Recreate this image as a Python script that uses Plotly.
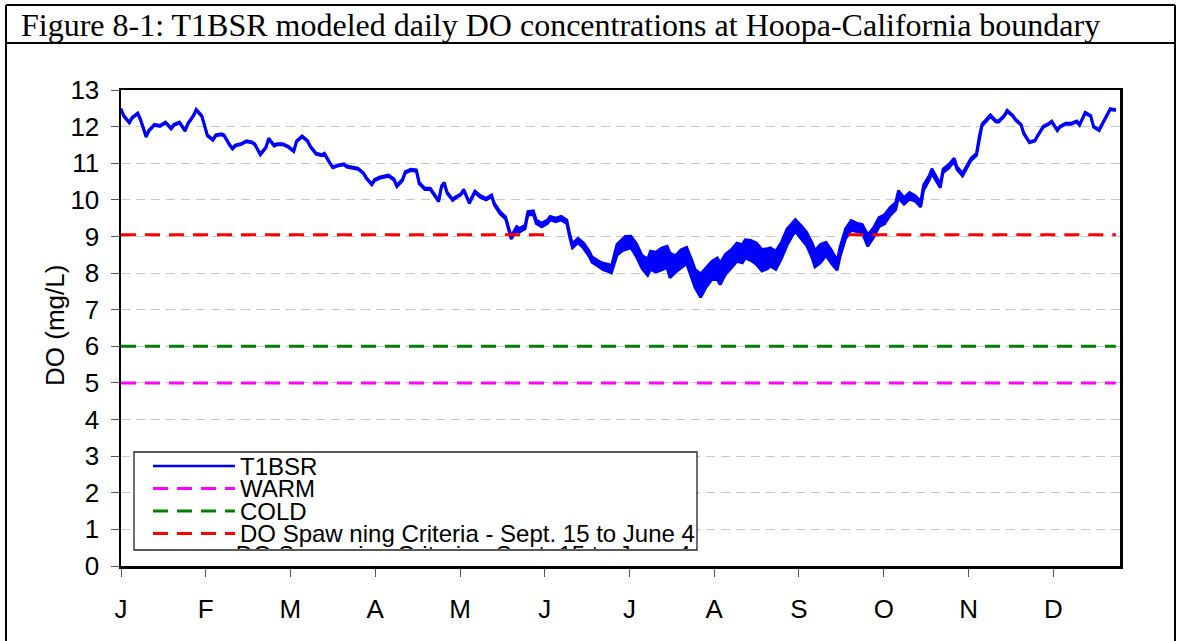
import plotly.graph_objects as go

# ---------------- layout constants (pixels) ----------------
W, H = 1180, 641
L, R, T, B = 121, 1120, 90, 566

# ---------------- text / ticks ----------------
title_text = "Figure 8-1: T1BSR modeled daily DO concentrations at Hoopa-California boundary"
y_title = "DO (mg/L)"
month_labels = ["J", "F", "M", "A", "M", "J", "J", "A", "S", "O", "N", "D"]
month_ticks = [0, 30.4, 60.8, 91.2, 121.7, 152.1, 182.5, 212.9, 243.3, 273.8, 304.2, 334.6]
x_range = [0, 358.5]
y_ticks = list(range(0, 14))

legend_labels = [
    "T1BSR",
    "WARM",
    "COLD",
    "DO Spaw ning Criteria - Sept. 15 to June 4",
    "DO Spaw ning Criteria - Sept. 15 to June 4",
]

# ---------------- data ----------------
day = [
    0, 1, 3, 4, 6, 7, 9, 10, 12, 14, 16, 18, 19, 21, 23, 24, 26, 27, 29, 30,
    31, 33, 34, 36, 37, 39, 40, 41, 43, 45, 47, 48, 50, 52, 53, 55, 56, 58, 60, 62,
    63, 65, 67, 68, 70, 72, 73, 75, 76, 78, 80, 81, 83, 85, 87, 88, 90, 91, 93, 95,
    96, 98, 99, 101, 102, 104, 106, 107, 109, 111, 112, 114, 115, 116, 117, 119, 120, 122, 123, 125,
    127, 129, 131, 133, 134, 136, 138, 139, 140, 142, 143, 145, 146, 148, 149, 151, 153, 154, 156, 158,
    160, 161, 162, 164, 166, 168, 169, 171, 173, 175, 176, 178, 180, 181, 183, 185, 187, 189, 190, 192,
    194, 196, 197, 199, 201, 203, 205, 206, 208, 210, 212, 214, 215, 217, 219, 221, 223, 224, 226, 228,
    230, 232, 233, 235, 237, 239, 241, 242, 244, 246, 248, 249, 251, 253, 255, 257, 258, 260, 262, 264,
    266, 268, 270, 272, 274, 276, 278, 279, 281, 283, 285, 287, 288, 290, 291, 292, 294, 295, 297, 299,
    300, 302, 303, 305, 307, 308, 309, 311, 312, 314, 315, 317, 318, 320, 321, 323, 324, 326, 328, 329,
    331, 333, 334, 336, 337, 339, 341, 343, 344, 346, 348, 349, 351, 352, 354, 355, 357,
]

do_mid = [
    12.48, 12.29, 12.11, 12.24, 12.36, 12.19, 11.73, 11.89, 12.05, 12.02, 12.11, 11.95, 12.05, 12.11, 11.89, 12.08, 12.30, 12.46, 12.29, 12.00,
    11.76, 11.64, 11.76, 11.79, 11.76, 11.50, 11.40, 11.48, 11.52, 11.60, 11.57, 11.52, 11.24, 11.43, 11.67, 11.48, 11.52, 11.52, 11.45, 11.33,
    11.60, 11.73, 11.60, 11.45, 11.26, 11.22, 11.26, 11.00, 10.89, 10.94, 10.97, 10.91, 10.87, 10.85, 10.73, 10.60, 10.42, 10.54, 10.61, 10.64,
    10.66, 10.55, 10.38, 10.54, 10.75, 10.82, 10.80, 10.46, 10.30, 10.30, 10.20, 9.97, 10.36, 10.46, 10.20, 10.00, 10.06, 10.15, 10.27, 9.92,
    10.22, 10.09, 10.02, 10.11, 9.88, 9.65, 9.51, 9.22, 8.97, 9.22, 9.17, 9.26, 9.63, 9.65, 9.40, 9.31, 9.40, 9.50, 9.45, 9.50,
    9.40, 9.03, 8.75, 8.89, 8.75, 8.53, 8.37, 8.27, 8.18, 8.14, 8.10, 8.64, 8.77, 8.82, 8.85, 8.62, 8.30, 8.16, 8.35, 8.30,
    8.39, 8.44, 8.21, 8.25, 8.39, 8.48, 8.07, 7.85, 7.66, 7.89, 8.07, 8.12, 7.98, 8.25, 8.39, 8.57, 8.53, 8.66, 8.62, 8.53,
    8.35, 8.39, 8.44, 8.35, 8.62, 8.98, 9.21, 9.30, 9.12, 8.94, 8.62, 8.39, 8.53, 8.66, 8.44, 8.21, 8.57, 9.07, 9.30, 9.25,
    9.21, 8.89, 9.10, 9.39, 9.47, 9.68, 9.83, 10.15, 9.97, 10.11, 10.04, 9.88, 10.33, 10.60, 10.79, 10.64, 10.38, 10.79, 10.91, 11.10,
    10.87, 10.69, 10.82, 11.10, 11.24, 11.71, 12.05, 12.21, 12.30, 12.14, 12.14, 12.30, 12.43, 12.30, 12.19, 12.05, 11.81, 11.57, 11.62, 11.76,
    12.00, 12.08, 12.14, 11.90, 12.00, 12.08, 12.08, 12.14, 12.05, 12.38, 12.29, 12.00, 11.90, 12.05, 12.33, 12.48, 12.45,
]

# apparent diurnal spread (thickness of the hourly band), mg/L
do_range = [
    0.03, 0.03, 0.03, 0.03, 0.03, 0.03, 0.03, 0.03, 0.03, 0.03, 0.03, 0.03, 0.03, 0.03, 0.03, 0.03, 0.03, 0.03, 0.03, 0.03,
    0.03, 0.03, 0.03, 0.03, 0.03, 0.03, 0.03, 0.03, 0.03, 0.03, 0.03, 0.03, 0.03, 0.03, 0.03, 0.03, 0.03, 0.03, 0.03, 0.03,
    0.03, 0.03, 0.03, 0.03, 0.03, 0.03, 0.03, 0.03, 0.03, 0.03, 0.03, 0.03, 0.03, 0.03, 0.03, 0.03, 0.03, 0.04, 0.04, 0.04,
    0.04, 0.04, 0.04, 0.04, 0.04, 0.04, 0.04, 0.04, 0.04, 0.04, 0.04, 0.04, 0.04, 0.04, 0.04, 0.04, 0.04, 0.04, 0.04, 0.04,
    0.05, 0.05, 0.05, 0.05, 0.05, 0.06, 0.06, 0.08, 0.08, 0.10, 0.10, 0.10, 0.10, 0.10, 0.10, 0.10, 0.10, 0.10, 0.10, 0.10,
    0.10, 0.10, 0.12, 0.12, 0.15, 0.15, 0.15, 0.15, 0.18, 0.20, 0.20, 0.30, 0.32, 0.36, 0.32, 0.36, 0.36, 0.45, 0.50, 0.55,
    0.59, 0.59, 0.68, 0.45, 0.50, 0.45, 0.50, 0.50, 0.64, 0.55, 0.50, 0.59, 0.59, 0.55, 0.50, 0.50, 0.50, 0.50, 0.55, 0.59,
    0.59, 0.55, 0.50, 0.50, 0.45, 0.45, 0.36, 0.32, 0.36, 0.36, 0.41, 0.45, 0.50, 0.36, 0.36, 0.27, 0.27, 0.27, 0.27, 0.23,
    0.23, 0.32, 0.27, 0.25, 0.25, 0.22, 0.20, 0.20, 0.18, 0.18, 0.15, 0.15, 0.15, 0.12, 0.12, 0.12, 0.10, 0.10, 0.10, 0.08,
    0.08, 0.08, 0.08, 0.06, 0.06, 0.06, 0.05, 0.05, 0.05, 0.04, 0.04, 0.04, 0.04, 0.03, 0.03, 0.03, 0.03, 0.03, 0.03, 0.03,
    0.03, 0.03, 0.03, 0.03, 0.03, 0.03, 0.03, 0.03, 0.03, 0.03, 0.03, 0.03, 0.03, 0.03, 0.03, 0.03, 0.03,
]

warm_level = 5.0
cold_level = 6.0
spawn_level = 9.05
line_span = [0, 357]
spawn_periods = [(0, 154), (261, 357)]

# ---------------- colours / fonts ----------------
BLUE = "#0000FF"
MAGENTA = "#FF00FF"
GREEN = "#008000"
RED = "#FF0000"
FONT = "Liberation Sans"
DASH = "15px,9px"
AXIS_FS = 26
LEGEND_FS = 24


def px(x):
    return (x - L) / (R - L)


def py(y):
    return (B - y) / (B - T)


lower = [m - r / 2 for m, r in zip(do_mid, do_range)]
upper = [m + r / 2 for m, r in zip(do_mid, do_range)]

fig = go.Figure()

# T1BSR hourly band
fig.add_trace(go.Scatter(x=day, y=lower, mode="lines", line=dict(color=BLUE, width=2.8),
                         hoverinfo="skip", showlegend=False))
fig.add_trace(go.Scatter(x=day, y=upper, mode="lines", line=dict(color=BLUE, width=2.8),
                         fill="tonexty", fillcolor=BLUE, name=legend_labels[0], showlegend=False))

# criteria lines
fig.add_trace(go.Scatter(x=line_span, y=[warm_level, warm_level], mode="lines",
                         line=dict(color=MAGENTA, width=3, dash=DASH), name=legend_labels[1], showlegend=False))
fig.add_trace(go.Scatter(x=line_span, y=[cold_level, cold_level], mode="lines",
                         line=dict(color=GREEN, width=3, dash=DASH), name=legend_labels[2], showlegend=False))
for a, b in spawn_periods:
    fig.add_trace(go.Scatter(x=[a, b], y=[spawn_level, spawn_level], mode="lines",
                             line=dict(color=RED, width=3, dash=DASH), name=legend_labels[3], showlegend=False))

# ---------------- legend (hand-built, Excel-like, with clipped last row) ----------------
LG_L, LG_R, LG_T, LG_B = 134, 697, 452, 550
rows_y = [466, 488.5, 511, 533.5, 558.5]
sample_x0, sample_x1, text_x = 153, 235, 238
shapes = []
annotations = []
shapes.append(dict(type="rect", xref="paper", yref="paper", layer="between",
                   x0=px(LG_L), x1=px(LG_R), y0=py(LG_B), y1=py(LG_T),
                   fillcolor="white", line=dict(width=0)))
shapes.append(dict(type="rect", xref="paper", yref="paper", layer="above",
                   x0=px(LG_L), x1=px(LG_R), y0=py(LG_B), y1=py(LG_T),
                   fillcolor="rgba(0,0,0,0)", line=dict(color="#222222", width=1.3)))
sample_styles = [(BLUE, "solid"), (MAGENTA, DASH), (GREEN, DASH), (RED, DASH)]
for i, (col, dsh) in enumerate(sample_styles):
    shapes.append(dict(type="line", xref="paper", yref="paper", layer="above",
                       x0=px(sample_x0), x1=px(sample_x1), y0=py(rows_y[i]), y1=py(rows_y[i]),
                       line=dict(color=col, width=2.5 if i == 0 else 3, dash=dsh)))
    annotations.append(dict(xref="paper", yref="paper", x=px(text_x), y=py(rows_y[i]),
                            xanchor="left", yanchor="middle", showarrow=False,
                            text=legend_labels[i], font=dict(family=FONT, size=LEGEND_FS, color="black")))

# clipped 5th legend row, drawn in a hidden subplot that matches the legend box
fig.add_trace(go.Scatter(
    x=[(text_x - 3 - LG_L) / (LG_R - LG_L)], y=[(LG_B - rows_y[4]) / (LG_B - LG_T)],
    mode="text", text=[legend_labels[4]], textposition="middle right",
    textfont=dict(family=FONT, size=LEGEND_FS, color="black"),
    xaxis="x2", yaxis="y2", cliponaxis=True, hoverinfo="skip", showlegend=False))

# ---------------- outer frame + title ----------------
FR_L, FR_R, FR_T, FR_TT = 6, 1175, 5, 43
for (x0, y0, x1, y1) in [(FR_L, FR_T, FR_L, 660), (FR_R, FR_T, FR_R, 660),
                         (FR_L, FR_T, FR_R, FR_T), (FR_L, FR_TT, FR_R, FR_TT)]:
    shapes.append(dict(type="line", xref="paper", yref="paper", layer="above",
                       x0=px(x0), x1=px(x1), y0=py(y0), y1=py(y1),
                       line=dict(color="black", width=2)))

annotations.append(dict(xref="paper", yref="paper", x=px(19), y=py(25),
                        xanchor="left", yanchor="middle", showarrow=False,
                        text=title_text, font=dict(family="Liberation Serif", size=32, color="black")))
annotations.append(dict(xref="paper", yref="paper", x=px(55), y=py(326),
                        xanchor="center", yanchor="middle", showarrow=False, textangle=-90,
                        text=y_title, font=dict(family=FONT, size=AXIS_FS, color="black")))

fig.update_layout(
    width=W, height=H,
    margin=dict(l=L, r=W - R, t=T, b=H - B, pad=0),
    paper_bgcolor="white", plot_bgcolor="white",
    showlegend=False,
    shapes=shapes, annotations=annotations,
    xaxis=dict(range=x_range, tickvals=month_ticks, ticktext=month_labels,
               showgrid=False, zeroline=False,
               showline=True, linecolor="black", linewidth=2.5, mirror=True,
               ticks="outside", ticklen=8, tickwidth=1, tickcolor="#555555",
               ticklabelstandoff=10,
               tickfont=dict(family=FONT, size=AXIS_FS, color="black")),
    yaxis=dict(range=[0, 13], tickvals=y_ticks,
               showgrid=True, gridcolor="#c8c8c8", gridwidth=1, griddash="9px,6px",
               zeroline=False,
               showline=True, linecolor="black", linewidth=2.5, mirror=True,
               ticks="outside", ticklen=8, tickwidth=1, tickcolor="#555555",
               ticklabelstandoff=6,
               tickfont=dict(family=FONT, size=AXIS_FS, color="black")),
    xaxis2=dict(domain=[px(LG_L + 1), px(LG_R - 1)], range=[0, 1], visible=False, anchor="y2", fixedrange=True),
    yaxis2=dict(domain=[py(LG_B - 1), py(LG_T + 1)], range=[0, 1], visible=False, anchor="x2", fixedrange=True),
)

fig.write_html("out.html", config={"displayModeBar": False, "staticPlot": True},
               post_script="document.body.style.margin='0';document.body.style.overflow='hidden';")
